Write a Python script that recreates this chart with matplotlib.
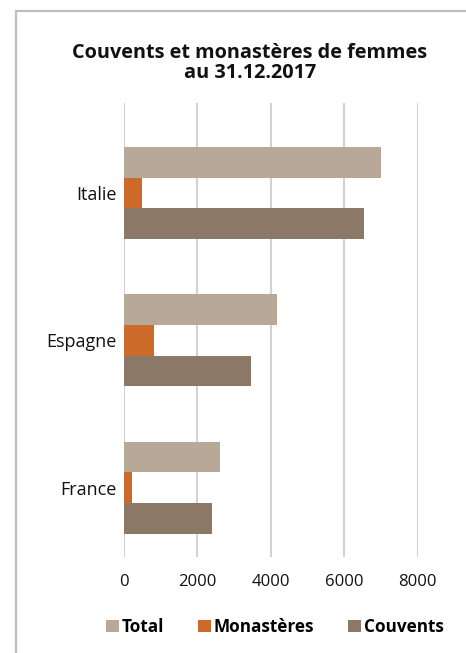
import numpy as np
import matplotlib
matplotlib.use("Agg")
import matplotlib.pyplot as plt
from matplotlib.patches import Patch, Rectangle

plt.rcParams['font.family'] = ['Open Sans', 'DejaVu Sans']

# data
countries = ['France', 'Espagne', 'Italie']
total = [2620, 4170, 7000]
monasteres = [230, 830, 500]
couvents = [2400, 3460, 6540]
series_names = ['Total', 'Monastères', 'Couvents']
series_colors = ['#b8a898', '#cc6a2a', '#8b7866']
xticks = [0, 2000, 4000, 6000, 8000]

fig = plt.figure(figsize=(4.66, 6.53), dpi=100)
W, H = 466, 653

# outer frame (cropped on the right/bottom like the reference)
frame = Rectangle((16 / W, -0.1), 1.2, 1 - 11 / H + 0.1, transform=fig.transFigure,
                  fill=False, edgecolor='#bdbdbd', linewidth=1.6)
fig.patches.append(frame)

ax = fig.add_axes([123.7 / W, 1 - 557 / H, 294 / W, (557 - 103) / H])

bar_h = 0.208
y = np.arange(len(countries))
for i, (vals, col) in enumerate(zip([total, monasteres, couvents], series_colors)):
    ax.barh(y + bar_h * (1 - i), vals, height=bar_h, color=col, zorder=2)

ax.set_xlim(0, 8000)
ax.set_ylim(-0.47, 2.61)
ax.set_xticks(xticks)
ax.set_xticklabels([str(v) for v in xticks], fontsize=12)
ax.set_yticks(y)
ax.set_yticklabels(countries, fontsize=13)
ax.tick_params(axis='both', length=0, colors='#111111')
ax.tick_params(axis='x', pad=12)
ax.tick_params(axis='y', pad=5)
ax.grid(axis='x', color='#c9c9c9', linewidth=1.2, zorder=0)
ax.grid(axis='y', visible=False)
for s in ax.spines.values():
    s.set_visible(False)

fig.text(250 / W, 1 - 63 / H, 'Couvents et monastères de femmes\nau 31.12.2017',
         ha='center', va='center', fontsize=14.3, fontweight='bold', linespacing=1.0,
         color='#111111')

handles = [Patch(facecolor=c, edgecolor='none') for c in series_colors]
leg = fig.legend(handles, series_names, loc='center', bbox_to_anchor=(275 / W, 1 - 627 / H),
                 ncol=3, frameon=False, handlelength=0.75, handleheight=0.75,
                 handletextpad=0.15, columnspacing=2.0,
                 prop={'weight': 'bold', 'size': 12.3})

fig.savefig('out.png', dpi=100)
